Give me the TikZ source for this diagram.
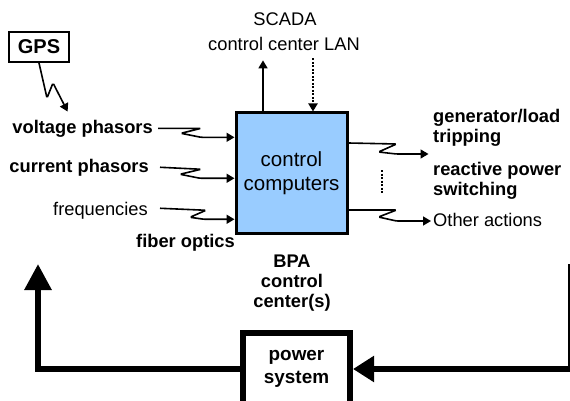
\documentclass[tikz,border=0pt]{standalone}
\usepackage{fontspec}
\setmainfont{Liberation Sans}
\usetikzlibrary{arrows.meta,calc,positioning}
\definecolor{boxblue}{RGB}{153,204,255}
\tikzset{lbl/.style={font=\fontsize{18.3}{20}\selectfont,inner sep=2pt},
  blbl/.style={lbl,font=\fontsize{18.3}{20}\selectfont\bfseries},
  arr/.style={-{Triangle[length=8pt,width=9pt]},line width=1.6pt},
  zz/.style={arr,rounded corners=1.5pt},
  fbline/.style={line width=6pt}}

\begin{document}
\begin{tikzpicture}[x=1pt,y=-1pt]
\useasboundingbox (0,0) rectangle (570,401);
% inputs
\node[draw,line width=2pt,minimum width=60,minimum height=30,inner sep=0pt,font=\fontsize{20}{22}\selectfont\bfseries] (gps) at (39,47) {GPS};
\node[blbl,anchor=base east] (volt) at (155,133) {voltage phasors};
\node[blbl,anchor=base east] (curr) at (151,172) {current phasors};
\node[lbl,anchor=base east] (freq) at (150,215) {frequencies};
\node[blbl,anchor=base west] (fiber) at (134,247) {fiber optics};
\node[draw,line width=3pt,fill=boxblue,minimum width=111,minimum height=120,align=center,font=\fontsize{20.5}{24}\selectfont] (ctrl) at (291.5,173) {control\\computers};
\draw[zz] (gps.south) -- ++(8,35) -- ++(6,-15) -- ([xshift=-15,yshift=6]volt.north);
\draw[zz] ([xshift=3]volt.east) -- ++(43,0) -- ++(-20,5) -- ++(20,4) coordinate (v1) -- (v1 -| ctrl.west);
\draw[zz] ([xshift=9]curr.east) -- ++(41,2) -- ++(-21,5) -- ++(20,4) coordinate (c1) -- (c1 -| ctrl.west);
\draw[zz] ([xshift=10,yshift=2]freq.east) -- ++(46,2) -- ++(-16,7) -- ++(14,2) coordinate (f1) -- (f1 -| ctrl.west);
% SCADA link
\node[lbl,anchor=base] (scada) at (285,26) {SCADA};
\node[lbl,anchor=base] (lan) at (284,51) {control center LAN};
\draw[arr] ([xshift=-28.5]ctrl.north) -- ([xshift=-21,yshift=-7]lan.south);
\draw[arr,line width=2pt,dash pattern=on 2pt off 1.5pt] ([xshift=29,yshift=-5]lan.south) -- ([xshift=21.5]ctrl.north);
% outputs
\node[blbl,anchor=west,align=left] (gen) at (431,128) {generator/load\\tripping};
\node[blbl,anchor=west,align=left] (react) at (431,181) {reactive power\\switching};
\node[lbl,anchor=base west] (other) at (431,226) {Other actions};
\draw[zz] ([yshift=30]ctrl.east) -- ++(48,1) -- ++(-18,8) -- ++(18,2) -- ++(32,0) coordinate (trip);
\draw[zz] ([yshift=-37]ctrl.east) -- ++(48,0) -- ++(-18,7) -- ++(18,4) coordinate (o1) -- (o1 -| other.west);
\draw[line width=2pt,dash pattern=on 2pt off 1.5pt] (382,170) -- (382,193);
% feedback loop
\node[blbl,align=center] (bpa) at (292,283) {BPA\\control\\center(s)};
\node[draw,line width=6pt,minimum width=107,minimum height=72,align=center,font=\fontsize{18.9}{23}\selectfont\bfseries] (psys) at (296.5,369) {power\\system};
\coordinate (rtop) at (571,264);
\coordinate (ltip) at (38,264);
\draw[fbline,-{Triangle[length=21pt,width=25pt]}] (rtop) |- (psys.east);
\draw[fbline,-{Triangle[length=26pt,width=26pt]}] (psys.west) -| (ltip);
\end{tikzpicture}
\end{document}
